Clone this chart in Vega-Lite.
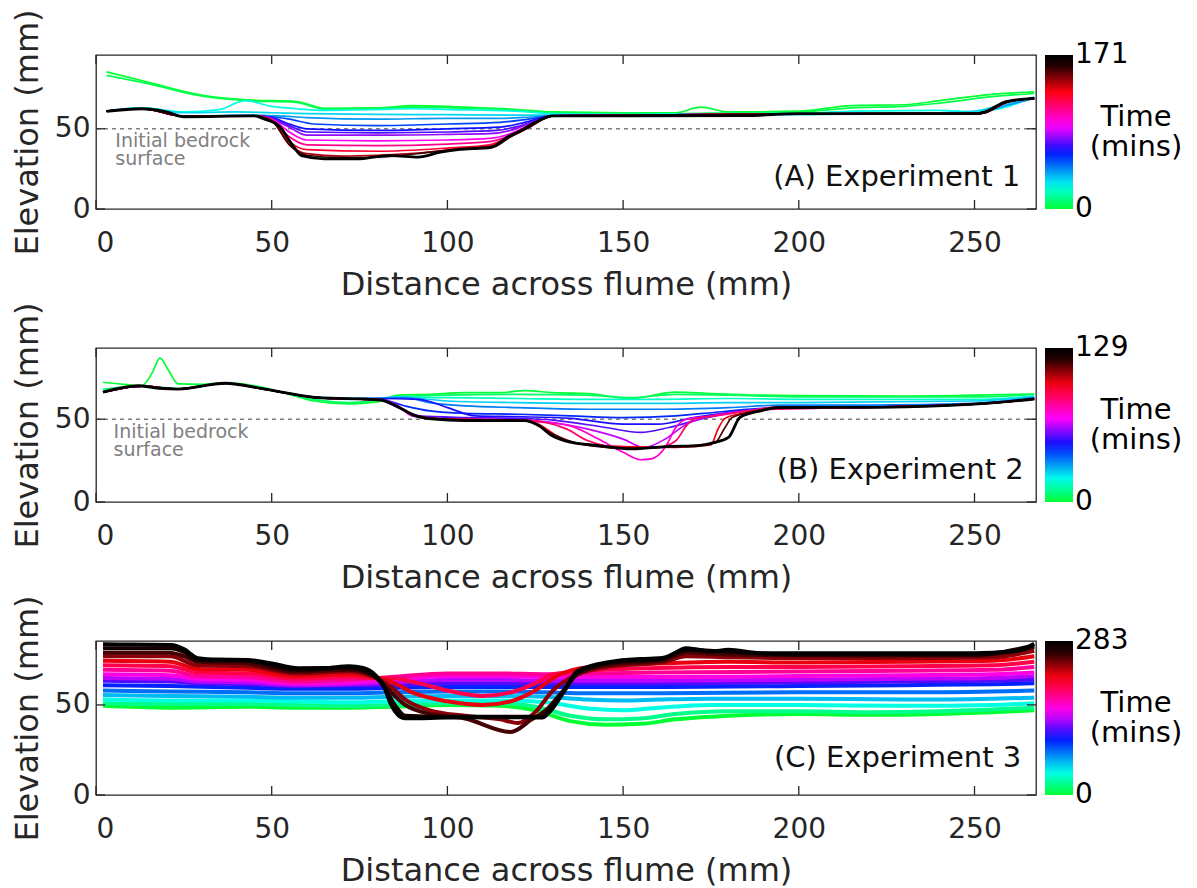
{
"$schema": "https://vega.github.io/schema/vega-lite/v6.json",
"background": "white",
"padding": {"left": 10, "top": 8, "right": 5, "bottom": 0},
"config": {
  "font": "DejaVu Sans",
  "view": {"stroke": "#262626", "strokeWidth": 1.3},
  "axis": {"grid": false, "domain": false, "ticks": false, "tickSize": 0, "labelFont": "DejaVu Sans", "labelFontSize": 28, "labelColor": "#262626", "titleFont": "DejaVu Sans", "titleFontSize": 32, "titleFontWeight": "normal", "titleColor": "#262626"},
  "axisBottom": {"labelPadding": 20, "titlePadding": 12},
  "axisLeft": {"labelPadding": 6, "titlePadding": 10},
  "legend": {"orient": "right", "offset": 9, "padding": 0, "gradientLength": 154, "gradientThickness": 28, "gradientStrokeWidth": 0, "labelFont": "DejaVu Sans", "labelFontSize": 28, "labelColor": "#000000", "labelOffset": 8, "labelOverlap": false, "titleFont": "DejaVu Sans", "titleFontSize": 29, "titleFontWeight": "normal", "titleColor": "#000000", "titleOrient": "right", "titlePadding": 8, "titleLineHeight": 30}
},
"spacing": 0,
"resolve": {"scale": {"color": "independent", "x": "independent", "y": "independent"}},
"datasets": {
"tx": [{"v":0},{"v":50},{"v":100},{"v":150},{"v":200},{"v":250}],
"ty": [{"v":0},{"v":50}],
"e1": [
{"t":0,"x":3,"y":85.5},{"t":0,"x":15,"y":79},{"t":0,"x":30,"y":71},{"t":0,"x":43,"y":68},{"t":0,"x":57,"y":67},{"t":0,"x":65,"y":62.8},{"t":0,"x":80,"y":63},{"t":0,"x":90,"y":64.5},{"t":0,"x":100,"y":64},{"t":0,"x":110,"y":63},{"t":0,"x":120,"y":62},{"t":0,"x":130,"y":60.5},{"t":0,"x":150,"y":60},{"t":0,"x":165,"y":60},{"t":0,"x":172,"y":63.5},{"t":0,"x":180,"y":60.5},{"t":0,"x":200,"y":61},{"t":0,"x":215,"y":64.5},{"t":0,"x":230,"y":65},{"t":0,"x":240,"y":67.5},{"t":0,"x":255,"y":71.5},{"t":0,"x":267,"y":73},
{"t":3,"x":3,"y":83.3},{"t":3,"x":15,"y":78},{"t":3,"x":30,"y":70.5},{"t":3,"x":43,"y":67.5},{"t":3,"x":57,"y":66.5},{"t":3,"x":65,"y":62.3},{"t":3,"x":80,"y":62.5},{"t":3,"x":90,"y":63.5},{"t":3,"x":100,"y":63.2},{"t":3,"x":110,"y":62.5},{"t":3,"x":120,"y":61.5},{"t":3,"x":130,"y":60},{"t":3,"x":150,"y":59.5},{"t":3,"x":165,"y":59.5},{"t":3,"x":180,"y":60},{"t":3,"x":200,"y":60.5},{"t":3,"x":215,"y":63},{"t":3,"x":230,"y":64},{"t":3,"x":240,"y":66},{"t":3,"x":255,"y":70},{"t":3,"x":267,"y":72},
{"t":24,"x":3,"y":61},{"t":24,"x":13,"y":63},{"t":24,"x":25,"y":60.5},{"t":24,"x":35,"y":62},{"t":24,"x":42.5,"y":67.5},{"t":24,"x":50,"y":64},{"t":24,"x":57,"y":62.5},{"t":24,"x":65,"y":61.5},{"t":24,"x":80,"y":62},{"t":24,"x":90,"y":62.5},{"t":24,"x":100,"y":62},{"t":24,"x":120,"y":61},{"t":24,"x":130,"y":59.5},{"t":24,"x":150,"y":59},{"t":24,"x":200,"y":59.5},{"t":24,"x":215,"y":61},{"t":24,"x":240,"y":61.5},{"t":24,"x":250,"y":60.5},{"t":24,"x":258,"y":63},{"t":24,"x":267,"y":70},
{"t":32,"x":3,"y":61},{"t":32,"x":13,"y":63},{"t":32,"x":25,"y":60},{"t":32,"x":40,"y":60.5},{"t":32,"x":50,"y":60},{"t":32,"x":60,"y":59.5},{"t":32,"x":80,"y":59},{"t":32,"x":100,"y":58.8},{"t":32,"x":120,"y":58.5},{"t":32,"x":130,"y":58.5},{"t":32,"x":150,"y":58.5},{"t":32,"x":200,"y":59},{"t":32,"x":240,"y":60},{"t":32,"x":250,"y":61},{"t":32,"x":258,"y":65},{"t":32,"x":267,"y":69.5},
{"t":42,"x":3,"y":60.8},{"t":42,"x":13,"y":62.5},{"t":42,"x":25,"y":58},{"t":42,"x":45,"y":58.5},{"t":42,"x":52,"y":58},{"t":42,"x":60,"y":57},{"t":42,"x":80,"y":56},{"t":42,"x":100,"y":56.5},{"t":42,"x":115,"y":56.5},{"t":42,"x":125,"y":57.5},{"t":42,"x":130,"y":58},{"t":42,"x":150,"y":58.3},{"t":42,"x":200,"y":59},{"t":42,"x":250,"y":59.5},{"t":42,"x":258,"y":64},{"t":42,"x":267,"y":69},
{"t":55,"x":3,"y":61},{"t":55,"x":13,"y":62.5},{"t":55,"x":25,"y":57.8},{"t":55,"x":45,"y":58},{"t":55,"x":50,"y":57.5},{"t":55,"x":55,"y":56},{"t":55,"x":62,"y":53},{"t":55,"x":80,"y":52},{"t":55,"x":100,"y":53},{"t":55,"x":115,"y":54},{"t":55,"x":123,"y":56},{"t":55,"x":130,"y":58},{"t":55,"x":200,"y":59.3},{"t":55,"x":252,"y":59.6},{"t":55,"x":259,"y":66.5},{"t":55,"x":267,"y":69},
{"t":65,"x":3,"y":61},{"t":65,"x":13,"y":62.5},{"t":65,"x":25,"y":57.8},{"t":65,"x":45,"y":58},{"t":65,"x":50,"y":57},{"t":65,"x":55,"y":53},{"t":65,"x":60,"y":50},{"t":65,"x":80,"y":49},{"t":65,"x":100,"y":50},{"t":65,"x":115,"y":51},{"t":65,"x":122,"y":54},{"t":65,"x":130,"y":58},{"t":65,"x":200,"y":59.3},{"t":65,"x":252,"y":59.6},{"t":65,"x":259,"y":66.5},{"t":65,"x":267,"y":69},
{"t":72,"x":3,"y":61},{"t":72,"x":13,"y":62.5},{"t":72,"x":25,"y":57.8},{"t":72,"x":45,"y":58},{"t":72,"x":50,"y":56.5},{"t":72,"x":55,"y":52},{"t":72,"x":60,"y":48},{"t":72,"x":80,"y":47.5},{"t":72,"x":100,"y":48},{"t":72,"x":114,"y":49},{"t":72,"x":120,"y":51.5},{"t":72,"x":125,"y":55},{"t":72,"x":130,"y":58},{"t":72,"x":200,"y":59.3},{"t":72,"x":252,"y":59.6},{"t":72,"x":259,"y":66.5},{"t":72,"x":267,"y":69},
{"t":80,"x":3,"y":61},{"t":80,"x":13,"y":62.5},{"t":80,"x":25,"y":57.8},{"t":80,"x":45,"y":58},{"t":80,"x":50,"y":56},{"t":80,"x":55,"y":51},{"t":80,"x":60,"y":46},{"t":80,"x":80,"y":46},{"t":80,"x":100,"y":46.5},{"t":80,"x":112,"y":47},{"t":80,"x":118,"y":49},{"t":80,"x":124,"y":54},{"t":80,"x":130,"y":58},{"t":80,"x":200,"y":59.3},{"t":80,"x":252,"y":59.6},{"t":80,"x":259,"y":66.5},{"t":80,"x":267,"y":69},
{"t":95,"x":3,"y":61},{"t":95,"x":13,"y":62.5},{"t":95,"x":25,"y":57.8},{"t":95,"x":45,"y":58},{"t":95,"x":50,"y":56},{"t":95,"x":55,"y":48},{"t":95,"x":60,"y":43},{"t":95,"x":80,"y":42.5},{"t":95,"x":100,"y":43},{"t":95,"x":112,"y":44},{"t":95,"x":118,"y":47},{"t":95,"x":124,"y":53},{"t":95,"x":130,"y":58},{"t":95,"x":200,"y":59.3},{"t":95,"x":252,"y":59.6},{"t":95,"x":259,"y":66.5},{"t":95,"x":267,"y":69},
{"t":110,"x":3,"y":61},{"t":110,"x":13,"y":62.5},{"t":110,"x":25,"y":57.8},{"t":110,"x":45,"y":58},{"t":110,"x":50,"y":55.5},{"t":110,"x":55,"y":45},{"t":110,"x":60,"y":40},{"t":110,"x":80,"y":39.5},{"t":110,"x":100,"y":40.5},{"t":110,"x":112,"y":42},{"t":110,"x":118,"y":46},{"t":110,"x":124,"y":53},{"t":110,"x":130,"y":58},{"t":110,"x":200,"y":59.3},{"t":110,"x":252,"y":59.6},{"t":110,"x":259,"y":66.5},{"t":110,"x":267,"y":69},
{"t":125,"x":3,"y":61},{"t":125,"x":13,"y":62.5},{"t":125,"x":25,"y":57.8},{"t":125,"x":45,"y":58},{"t":125,"x":50,"y":55.5},{"t":125,"x":55,"y":42},{"t":125,"x":60,"y":37},{"t":125,"x":80,"y":36},{"t":125,"x":100,"y":38},{"t":125,"x":112,"y":40},{"t":125,"x":118,"y":45.5},{"t":125,"x":123,"y":51},{"t":125,"x":130,"y":58},{"t":125,"x":200,"y":59.3},{"t":125,"x":252,"y":59.6},{"t":125,"x":259,"y":66.5},{"t":125,"x":267,"y":69},
{"t":140,"x":3,"y":61},{"t":140,"x":13,"y":62.5},{"t":140,"x":25,"y":57.8},{"t":140,"x":45,"y":58},{"t":140,"x":50,"y":55},{"t":140,"x":55,"y":40.5},{"t":140,"x":60,"y":34.5},{"t":140,"x":70,"y":33},{"t":140,"x":80,"y":33.5},{"t":140,"x":95,"y":35.5},{"t":140,"x":105,"y":38},{"t":140,"x":112,"y":39},{"t":140,"x":118,"y":45},{"t":140,"x":123,"y":50.5},{"t":140,"x":130,"y":58},{"t":140,"x":200,"y":59.3},{"t":140,"x":252,"y":59.6},{"t":140,"x":259,"y":66.5},{"t":140,"x":267,"y":69},
{"t":155,"x":3,"y":61},{"t":155,"x":13,"y":62.5},{"t":155,"x":25,"y":57.8},{"t":155,"x":45,"y":58},{"t":155,"x":50,"y":55},{"t":155,"x":55,"y":40},{"t":155,"x":60,"y":33.5},{"t":155,"x":70,"y":32},{"t":155,"x":85,"y":33},{"t":155,"x":95,"y":35.5},{"t":155,"x":105,"y":37.5},{"t":155,"x":113,"y":38.5},{"t":155,"x":118,"y":45},{"t":155,"x":122,"y":49.5},{"t":155,"x":126,"y":54.5},{"t":155,"x":130,"y":58},{"t":155,"x":200,"y":59.3},{"t":155,"x":252,"y":59.6},{"t":155,"x":259,"y":66.5},{"t":155,"x":267,"y":69},
{"t":171,"x":3,"y":60.8},{"t":171,"x":13,"y":62.5},{"t":171,"x":20,"y":60.5},{"t":171,"x":25,"y":57.5},{"t":171,"x":45,"y":58},{"t":171,"x":48,"y":56},{"t":171,"x":52,"y":52},{"t":171,"x":56,"y":39.6},{"t":171,"x":58.5,"y":33.3},{"t":171,"x":65,"y":31.3},{"t":171,"x":75,"y":31.2},{"t":171,"x":79,"y":32.3},{"t":171,"x":84,"y":33.3},{"t":171,"x":91.7,"y":32.3},{"t":171,"x":98,"y":35.4},{"t":171,"x":103,"y":37},{"t":171,"x":112.5,"y":38.5},{"t":171,"x":117,"y":44.8},{"t":171,"x":121,"y":49},{"t":171,"x":125,"y":54},{"t":171,"x":130,"y":58},{"t":171,"x":150,"y":58},{"t":171,"x":185,"y":58.2},{"t":171,"x":200,"y":59.4},{"t":171,"x":250,"y":59.4},{"t":171,"x":253,"y":60.6},{"t":171,"x":259,"y":67},{"t":171,"x":267,"y":69}
],
"e2": [
{"t":0,"x":2,"y":72.3},{"t":0,"x":8,"y":71},{"t":0,"x":13,"y":70.2},{"t":0,"x":16,"y":78},{"t":0,"x":18.2,"y":86.9},{"t":0,"x":20.5,"y":80},{"t":0,"x":23.4,"y":71.3},{"t":0,"x":30,"y":71},{"t":0,"x":37,"y":72},{"t":0,"x":48,"y":69},{"t":0,"x":55,"y":65},{"t":0,"x":62,"y":61},{"t":0,"x":72,"y":59.2},{"t":0,"x":80,"y":60.5},{"t":0,"x":86,"y":64.5},{"t":0,"x":95,"y":65},{"t":0,"x":105,"y":66},{"t":0,"x":115,"y":66},{"t":0,"x":122,"y":67.2},{"t":0,"x":130,"y":66},{"t":0,"x":140,"y":65.5},{"t":0,"x":152,"y":62.5},{"t":0,"x":165,"y":66.4},{"t":0,"x":175,"y":65.5},{"t":0,"x":190,"y":64.5},{"t":0,"x":200,"y":64.2},{"t":0,"x":230,"y":64},{"t":0,"x":250,"y":64.5},{"t":0,"x":267,"y":65.2},
{"t":5,"x":2,"y":68},{"t":5,"x":13,"y":70.2},{"t":5,"x":23,"y":68.5},{"t":5,"x":37,"y":72},{"t":5,"x":48,"y":68.5},{"t":5,"x":62,"y":62},{"t":5,"x":72,"y":60},{"t":5,"x":80,"y":61.5},{"t":5,"x":86,"y":63.5},{"t":5,"x":100,"y":64.5},{"t":5,"x":120,"y":65},{"t":5,"x":140,"y":64.5},{"t":5,"x":152,"y":63},{"t":5,"x":165,"y":65},{"t":5,"x":180,"y":64.5},{"t":5,"x":200,"y":63.5},{"t":5,"x":250,"y":63.5},{"t":5,"x":267,"y":65},
{"t":15,"x":2,"y":66.5},{"t":15,"x":13,"y":70},{"t":15,"x":23,"y":68.3},{"t":15,"x":37,"y":71.8},{"t":15,"x":48,"y":68.3},{"t":15,"x":62,"y":63},{"t":15,"x":72,"y":62},{"t":15,"x":80,"y":62.5},{"t":15,"x":86,"y":63.5},{"t":15,"x":100,"y":63},{"t":15,"x":120,"y":62.5},{"t":15,"x":140,"y":62},{"t":15,"x":160,"y":62},{"t":15,"x":180,"y":62.5},{"t":15,"x":200,"y":62},{"t":15,"x":250,"y":62},{"t":15,"x":267,"y":64},
{"t":25,"x":2,"y":66.3},{"t":25,"x":13,"y":70},{"t":25,"x":23,"y":68.2},{"t":25,"x":37,"y":71.7},{"t":25,"x":48,"y":68.2},{"t":25,"x":62,"y":63.2},{"t":25,"x":80,"y":62.5},{"t":25,"x":86,"y":63.5},{"t":25,"x":100,"y":61},{"t":25,"x":120,"y":60},{"t":25,"x":140,"y":59.5},{"t":25,"x":160,"y":59.5},{"t":25,"x":180,"y":60},{"t":25,"x":200,"y":60},{"t":25,"x":250,"y":61},{"t":25,"x":267,"y":63.5},
{"t":35,"x":2,"y":66.3},{"t":35,"x":13,"y":70},{"t":35,"x":23,"y":68.2},{"t":35,"x":37,"y":71.7},{"t":35,"x":48,"y":68.2},{"t":35,"x":62,"y":63.2},{"t":35,"x":72,"y":62.3},{"t":35,"x":80,"y":62.5},{"t":35,"x":88,"y":63},{"t":35,"x":95,"y":60},{"t":35,"x":105,"y":58},{"t":35,"x":120,"y":57},{"t":35,"x":140,"y":56},{"t":35,"x":160,"y":56},{"t":35,"x":180,"y":57},{"t":35,"x":195,"y":58.5},{"t":35,"x":220,"y":58.5},{"t":35,"x":250,"y":59.5},{"t":35,"x":267,"y":63},
{"t":45,"x":2,"y":66.3},{"t":45,"x":13,"y":70},{"t":45,"x":23,"y":68.2},{"t":45,"x":37,"y":71.7},{"t":45,"x":48,"y":68.2},{"t":45,"x":62,"y":63.2},{"t":45,"x":72,"y":62.3},{"t":45,"x":80,"y":62.5},{"t":45,"x":88,"y":58},{"t":45,"x":95,"y":55},{"t":45,"x":105,"y":53.5},{"t":45,"x":120,"y":53},{"t":45,"x":135,"y":52},{"t":45,"x":150,"y":51},{"t":45,"x":165,"y":52},{"t":45,"x":178,"y":54.5},{"t":45,"x":190,"y":56.5},{"t":45,"x":220,"y":57.5},{"t":45,"x":250,"y":59.3},{"t":45,"x":267,"y":62.5},
{"t":50,"x":2,"y":66.3},{"t":50,"x":13,"y":70},{"t":50,"x":23,"y":68.2},{"t":50,"x":37,"y":71.7},{"t":50,"x":48,"y":68.2},{"t":50,"x":62,"y":63.2},{"t":50,"x":72,"y":62.3},{"t":50,"x":80,"y":62.5},{"t":50,"x":92,"y":62},{"t":50,"x":100,"y":57},{"t":50,"x":108,"y":52},{"t":50,"x":120,"y":51.5},{"t":50,"x":135,"y":50.5},{"t":50,"x":150,"y":47},{"t":50,"x":160,"y":47},{"t":50,"x":170,"y":51},{"t":50,"x":180,"y":54},{"t":50,"x":192,"y":56.5},{"t":50,"x":222,"y":57.3},{"t":50,"x":251,"y":59.2},{"t":50,"x":267,"y":62.2},
{"t":55,"x":2,"y":66.3},{"t":55,"x":13,"y":70},{"t":55,"x":23,"y":68.2},{"t":55,"x":37,"y":71.7},{"t":55,"x":48,"y":68.2},{"t":55,"x":62,"y":63.2},{"t":55,"x":72,"y":62.3},{"t":55,"x":80,"y":62},{"t":55,"x":86,"y":57},{"t":55,"x":92,"y":52},{"t":55,"x":105,"y":51},{"t":55,"x":120,"y":50.5},{"t":55,"x":130,"y":49.5},{"t":55,"x":145,"y":45},{"t":55,"x":155,"y":42},{"t":55,"x":163,"y":45},{"t":55,"x":172,"y":50},{"t":55,"x":180,"y":53.5},{"t":55,"x":192,"y":56.5},{"t":55,"x":222,"y":57.3},{"t":55,"x":251,"y":59.2},{"t":55,"x":267,"y":62.2},
{"t":65,"x":2,"y":66.3},{"t":65,"x":13,"y":70},{"t":65,"x":23,"y":68.2},{"t":65,"x":37,"y":71.7},{"t":65,"x":48,"y":68.2},{"t":65,"x":62,"y":63.2},{"t":65,"x":72,"y":62.3},{"t":65,"x":81,"y":61.8},{"t":65,"x":86,"y":58},{"t":65,"x":90,"y":52},{"t":65,"x":100,"y":50},{"t":65,"x":120,"y":49.5},{"t":65,"x":130,"y":48},{"t":65,"x":140,"y":44},{"t":65,"x":150,"y":38},{"t":65,"x":156,"y":33},{"t":65,"x":162,"y":38},{"t":65,"x":168,"y":47},{"t":65,"x":175,"y":52},{"t":65,"x":185,"y":55},{"t":65,"x":195,"y":57.5},{"t":65,"x":222,"y":57.3},{"t":65,"x":251,"y":59.2},{"t":65,"x":267,"y":62.2},
{"t":75,"x":2,"y":66.3},{"t":75,"x":13,"y":70},{"t":75,"x":23,"y":68.2},{"t":75,"x":37,"y":71.7},{"t":75,"x":48,"y":68.2},{"t":75,"x":62,"y":63.2},{"t":75,"x":72,"y":62.3},{"t":75,"x":81,"y":61.7},{"t":75,"x":86,"y":58},{"t":75,"x":90,"y":52},{"t":75,"x":100,"y":50},{"t":75,"x":120,"y":49.5},{"t":75,"x":128,"y":48},{"t":75,"x":135,"y":46},{"t":75,"x":143,"y":38},{"t":75,"x":150,"y":30},{"t":75,"x":155,"y":25.5},{"t":75,"x":158,"y":26},{"t":75,"x":162,"y":33},{"t":75,"x":165,"y":45},{"t":75,"x":168,"y":50},{"t":75,"x":176,"y":52},{"t":75,"x":190,"y":56},{"t":75,"x":222,"y":57.3},{"t":75,"x":251,"y":59.2},{"t":75,"x":267,"y":62.2},
{"t":88,"x":2,"y":66.3},{"t":88,"x":13,"y":70},{"t":88,"x":23,"y":68.2},{"t":88,"x":37,"y":71.7},{"t":88,"x":48,"y":68.2},{"t":88,"x":62,"y":63.2},{"t":88,"x":72,"y":62.3},{"t":88,"x":81,"y":61.6},{"t":88,"x":86,"y":57.5},{"t":88,"x":91,"y":52},{"t":88,"x":100,"y":50},{"t":88,"x":122,"y":49.5},{"t":88,"x":128,"y":48},{"t":88,"x":134,"y":44},{"t":88,"x":140,"y":37},{"t":88,"x":150,"y":33},{"t":88,"x":160,"y":33},{"t":88,"x":165,"y":37},{"t":88,"x":168,"y":46},{"t":88,"x":170,"y":50},{"t":88,"x":176,"y":52},{"t":88,"x":188,"y":55.5},{"t":88,"x":222,"y":57.3},{"t":88,"x":251,"y":59.2},{"t":88,"x":267,"y":62.2},
{"t":100,"x":2,"y":66.3},{"t":100,"x":13,"y":70},{"t":100,"x":23,"y":68.2},{"t":100,"x":37,"y":71.7},{"t":100,"x":48,"y":68.2},{"t":100,"x":62,"y":63.2},{"t":100,"x":72,"y":62.3},{"t":100,"x":81,"y":61.6},{"t":100,"x":86,"y":57.5},{"t":100,"x":91,"y":52},{"t":100,"x":100,"y":50},{"t":100,"x":122,"y":49.3},{"t":100,"x":126,"y":47},{"t":100,"x":131,"y":40},{"t":100,"x":138,"y":35},{"t":100,"x":150,"y":33.5},{"t":100,"x":165,"y":33},{"t":100,"x":175,"y":34.5},{"t":100,"x":177,"y":44},{"t":100,"x":179,"y":50.5},{"t":100,"x":185,"y":54},{"t":100,"x":195,"y":57.5},{"t":100,"x":222,"y":57.3},{"t":100,"x":251,"y":59.2},{"t":100,"x":267,"y":62.2},
{"t":115,"x":2,"y":66.3},{"t":115,"x":13,"y":70},{"t":115,"x":23,"y":68.2},{"t":115,"x":37,"y":71.7},{"t":115,"x":48,"y":68.2},{"t":115,"x":62,"y":63.2},{"t":115,"x":72,"y":62.3},{"t":115,"x":81,"y":61.6},{"t":115,"x":86,"y":57.4},{"t":115,"x":91,"y":52},{"t":115,"x":100,"y":50},{"t":115,"x":122,"y":49.2},{"t":115,"x":124,"y":48},{"t":115,"x":130,"y":41},{"t":115,"x":136,"y":36},{"t":115,"x":150,"y":32.5},{"t":115,"x":165,"y":33.5},{"t":115,"x":176,"y":35.5},{"t":115,"x":179,"y":45},{"t":115,"x":181,"y":51},{"t":115,"x":188,"y":55},{"t":115,"x":195,"y":57.5},{"t":115,"x":222,"y":57.3},{"t":115,"x":251,"y":59.2},{"t":115,"x":267,"y":62.2},
{"t":129,"x":2,"y":66.3},{"t":129,"x":12,"y":70.2},{"t":129,"x":17.8,"y":68.7},{"t":129,"x":23.4,"y":68.2},{"t":129,"x":36.7,"y":71.7},{"t":129,"x":48,"y":68.2},{"t":129,"x":62.3,"y":63.2},{"t":129,"x":81,"y":61.6},{"t":129,"x":86,"y":57.4},{"t":129,"x":90.8,"y":52.2},{"t":129,"x":95.5,"y":50.2},{"t":129,"x":105,"y":49.2},{"t":129,"x":122,"y":49.2},{"t":129,"x":126,"y":46.2},{"t":129,"x":129.7,"y":40.1},{"t":129,"x":135,"y":36.1},{"t":129,"x":143,"y":34.1},{"t":129,"x":152.5,"y":32.1},{"t":129,"x":162,"y":33.5},{"t":129,"x":171.5,"y":34.1},{"t":129,"x":176,"y":36},{"t":129,"x":180,"y":39},{"t":129,"x":183.3,"y":51.2},{"t":129,"x":189.5,"y":55.2},{"t":129,"x":194,"y":57},{"t":129,"x":222.7,"y":57.2},{"t":129,"x":251,"y":59.2},{"t":129,"x":267,"y":62.2}
],
"e3": [
{"t":0,"x":2,"y":49.5},{"t":0,"x":21,"y":48.5},{"t":0,"x":43,"y":49},{"t":0,"x":57,"y":48.5},{"t":0,"x":72,"y":48.5},{"t":0,"x":84,"y":49},{"t":0,"x":100,"y":50},{"t":0,"x":115,"y":49.5},{"t":0,"x":125,"y":47},{"t":0,"x":135,"y":41},{"t":0,"x":145,"y":39},{"t":0,"x":155,"y":39.5},{"t":0,"x":165,"y":42},{"t":0,"x":180,"y":44},{"t":0,"x":200,"y":45},{"t":0,"x":220,"y":44.5},{"t":0,"x":240,"y":45},{"t":0,"x":255,"y":46},{"t":0,"x":267,"y":47},
{"t":20,"x":2,"y":51},{"t":20,"x":21,"y":50.5},{"t":20,"x":43,"y":50.5},{"t":20,"x":57,"y":50},{"t":20,"x":72,"y":49.5},{"t":20,"x":84,"y":50},{"t":20,"x":100,"y":51},{"t":20,"x":115,"y":51},{"t":20,"x":125,"y":49},{"t":20,"x":135,"y":44},{"t":20,"x":145,"y":42},{"t":20,"x":155,"y":42.5},{"t":20,"x":165,"y":45},{"t":20,"x":180,"y":46.5},{"t":20,"x":200,"y":46.5},{"t":20,"x":220,"y":46},{"t":20,"x":240,"y":46.5},{"t":20,"x":255,"y":47.5},{"t":20,"x":267,"y":48.5},
{"t":40,"x":2,"y":53},{"t":40,"x":21,"y":52.5},{"t":40,"x":43,"y":52.5},{"t":40,"x":57,"y":52},{"t":40,"x":72,"y":51.5},{"t":40,"x":84,"y":52},{"t":40,"x":100,"y":52.5},{"t":40,"x":115,"y":52.5},{"t":40,"x":128,"y":51.5},{"t":40,"x":140,"y":48},{"t":40,"x":150,"y":47},{"t":40,"x":160,"y":48.5},{"t":40,"x":175,"y":50},{"t":40,"x":200,"y":50},{"t":40,"x":230,"y":49.5},{"t":40,"x":255,"y":50},{"t":40,"x":267,"y":51},
{"t":60,"x":2,"y":55.5},{"t":60,"x":21,"y":55},{"t":60,"x":43,"y":54.5},{"t":60,"x":57,"y":54},{"t":60,"x":72,"y":54},{"t":60,"x":84,"y":54.5},{"t":60,"x":100,"y":55},{"t":60,"x":115,"y":55},{"t":60,"x":128,"y":54.5},{"t":60,"x":140,"y":53},{"t":60,"x":150,"y":52.5},{"t":60,"x":160,"y":53},{"t":60,"x":175,"y":53.5},{"t":60,"x":200,"y":53.5},{"t":60,"x":230,"y":53},{"t":60,"x":255,"y":53.5},{"t":60,"x":267,"y":54},
{"t":80,"x":2,"y":58},{"t":80,"x":21,"y":57.5},{"t":80,"x":43,"y":57},{"t":80,"x":57,"y":56.5},{"t":80,"x":72,"y":56.5},{"t":80,"x":84,"y":57},{"t":80,"x":100,"y":57.5},{"t":80,"x":115,"y":57.5},{"t":80,"x":128,"y":57},{"t":80,"x":140,"y":56.5},{"t":80,"x":160,"y":56.5},{"t":80,"x":200,"y":57},{"t":80,"x":230,"y":57},{"t":80,"x":255,"y":57.5},{"t":80,"x":267,"y":58},
{"t":100,"x":2,"y":61},{"t":100,"x":21,"y":60.5},{"t":100,"x":43,"y":59.5},{"t":100,"x":57,"y":59},{"t":100,"x":72,"y":59},{"t":100,"x":84,"y":59.5},{"t":100,"x":100,"y":60},{"t":100,"x":115,"y":60},{"t":100,"x":128,"y":60},{"t":100,"x":140,"y":60},{"t":100,"x":160,"y":60},{"t":100,"x":200,"y":60.5},{"t":100,"x":230,"y":61},{"t":100,"x":255,"y":61.5},{"t":100,"x":267,"y":62},
{"t":120,"x":2,"y":63.5},{"t":120,"x":21,"y":63},{"t":120,"x":29,"y":62},{"t":120,"x":43,"y":61.5},{"t":120,"x":57,"y":60.5},{"t":120,"x":72,"y":61},{"t":120,"x":84,"y":61},{"t":120,"x":100,"y":62},{"t":120,"x":115,"y":62},{"t":120,"x":128,"y":62},{"t":120,"x":140,"y":62},{"t":120,"x":160,"y":62},{"t":120,"x":200,"y":62.5},{"t":120,"x":230,"y":63},{"t":120,"x":255,"y":63.5},{"t":120,"x":267,"y":64},
{"t":140,"x":2,"y":65},{"t":140,"x":21,"y":64.5},{"t":140,"x":29,"y":63},{"t":140,"x":43,"y":62.5},{"t":140,"x":57,"y":61},{"t":140,"x":72,"y":61.5},{"t":140,"x":84,"y":62.5},{"t":140,"x":100,"y":64},{"t":140,"x":115,"y":64},{"t":140,"x":128,"y":63.5},{"t":140,"x":140,"y":63.5},{"t":140,"x":160,"y":63.5},{"t":140,"x":200,"y":64},{"t":140,"x":230,"y":64.5},{"t":140,"x":255,"y":65},{"t":140,"x":267,"y":66},
{"t":160,"x":2,"y":67},{"t":160,"x":21,"y":66.5},{"t":160,"x":29,"y":64.5},{"t":160,"x":43,"y":64},{"t":160,"x":57,"y":62},{"t":160,"x":72,"y":62.5},{"t":160,"x":84,"y":64},{"t":160,"x":100,"y":66},{"t":160,"x":115,"y":66},{"t":160,"x":128,"y":65.5},{"t":160,"x":140,"y":65.5},{"t":160,"x":160,"y":65.5},{"t":160,"x":200,"y":66},{"t":160,"x":230,"y":66.5},{"t":160,"x":255,"y":67},{"t":160,"x":267,"y":68},
{"t":180,"x":2,"y":69.5},{"t":180,"x":21,"y":69},{"t":180,"x":29,"y":66},{"t":180,"x":43,"y":65.5},{"t":180,"x":57,"y":63},{"t":180,"x":72,"y":64},{"t":180,"x":84,"y":65.5},{"t":180,"x":100,"y":67.5},{"t":180,"x":115,"y":67.5},{"t":180,"x":128,"y":67},{"t":180,"x":140,"y":67.5},{"t":180,"x":160,"y":68},{"t":180,"x":200,"y":68.5},{"t":180,"x":230,"y":69},{"t":180,"x":255,"y":69.5},{"t":180,"x":267,"y":71},
{"t":200,"x":2,"y":72},{"t":200,"x":21,"y":71.5},{"t":200,"x":29,"y":68},{"t":200,"x":43,"y":67.5},{"t":200,"x":57,"y":64.5},{"t":200,"x":72,"y":65.5},{"t":200,"x":79,"y":65},{"t":200,"x":84,"y":65},{"t":200,"x":92,"y":62},{"t":200,"x":100,"y":58},{"t":200,"x":110,"y":55},{"t":200,"x":118,"y":57},{"t":200,"x":125,"y":62},{"t":200,"x":130,"y":67},{"t":200,"x":140,"y":69},{"t":200,"x":160,"y":70.5},{"t":200,"x":180,"y":71},{"t":200,"x":200,"y":71},{"t":200,"x":230,"y":71.5},{"t":200,"x":255,"y":72},{"t":200,"x":267,"y":74},
{"t":220,"x":2,"y":74.5},{"t":220,"x":21,"y":74},{"t":220,"x":29,"y":70},{"t":220,"x":43,"y":69.5},{"t":220,"x":57,"y":66},{"t":220,"x":72,"y":67},{"t":220,"x":79,"y":65.5},{"t":220,"x":84,"y":63},{"t":220,"x":90,"y":57},{"t":220,"x":100,"y":52},{"t":220,"x":110,"y":50},{"t":220,"x":118,"y":52},{"t":220,"x":125,"y":58},{"t":220,"x":131,"y":66},{"t":220,"x":140,"y":71},{"t":220,"x":160,"y":73},{"t":220,"x":180,"y":74},{"t":220,"x":200,"y":73.5},{"t":220,"x":230,"y":74},{"t":220,"x":255,"y":74.5},{"t":220,"x":267,"y":77},
{"t":240,"x":2,"y":77},{"t":240,"x":21,"y":77},{"t":240,"x":29,"y":72},{"t":240,"x":43,"y":71.5},{"t":240,"x":57,"y":67.5},{"t":240,"x":72,"y":68.5},{"t":240,"x":79,"y":65.5},{"t":240,"x":84,"y":60},{"t":240,"x":88,"y":53},{"t":240,"x":95,"y":47},{"t":240,"x":105,"y":44},{"t":240,"x":115,"y":42},{"t":240,"x":120,"y":40},{"t":240,"x":125,"y":46},{"t":240,"x":130,"y":58},{"t":240,"x":137,"y":67},{"t":240,"x":147,"y":71.5},{"t":240,"x":161,"y":73.5},{"t":240,"x":168,"y":77},{"t":240,"x":180,"y":76.5},{"t":240,"x":200,"y":76},{"t":240,"x":230,"y":76},{"t":240,"x":255,"y":76.5},{"t":240,"x":267,"y":80},
{"t":255,"x":2,"y":79},{"t":255,"x":21,"y":79},{"t":255,"x":25,"y":77},{"t":255,"x":29,"y":74},{"t":255,"x":43,"y":73},{"t":255,"x":57,"y":68.5},{"t":255,"x":72,"y":69.5},{"t":255,"x":79,"y":66},{"t":255,"x":84,"y":57},{"t":255,"x":88,"y":50},{"t":255,"x":95,"y":45},{"t":255,"x":105,"y":42.5},{"t":255,"x":118,"y":35},{"t":255,"x":124,"y":42},{"t":255,"x":128,"y":47},{"t":255,"x":133,"y":58},{"t":255,"x":137,"y":67},{"t":255,"x":147,"y":72.5},{"t":255,"x":161,"y":74.5},{"t":255,"x":168,"y":79},{"t":255,"x":180,"y":78},{"t":255,"x":200,"y":77.5},{"t":255,"x":250,"y":77.5},{"t":255,"x":267,"y":82},
{"t":270,"x":2,"y":81.5},{"t":270,"x":21,"y":81.5},{"t":270,"x":25,"y":79.5},{"t":270,"x":29,"y":75},{"t":270,"x":43,"y":74.5},{"t":270,"x":57,"y":69.5},{"t":270,"x":72,"y":70.5},{"t":270,"x":79,"y":66.5},{"t":270,"x":82,"y":60},{"t":270,"x":85,"y":50},{"t":270,"x":88,"y":44},{"t":270,"x":100,"y":43.5},{"t":270,"x":115,"y":43.5},{"t":270,"x":127,"y":43.5},{"t":270,"x":130,"y":50},{"t":270,"x":134,"y":60},{"t":270,"x":137,"y":68},{"t":270,"x":147,"y":73.5},{"t":270,"x":161,"y":75.5},{"t":270,"x":168,"y":80.5},{"t":270,"x":180,"y":79.5},{"t":270,"x":200,"y":78},{"t":270,"x":250,"y":78},{"t":270,"x":267,"y":83},
{"t":283,"x":2,"y":83.7},{"t":283,"x":10,"y":83.5},{"t":283,"x":21.5,"y":83.3},{"t":283,"x":25,"y":81},{"t":283,"x":29,"y":76},{"t":283,"x":35,"y":75.2},{"t":283,"x":43,"y":75},{"t":283,"x":50,"y":73},{"t":283,"x":57.6,"y":70.4},{"t":283,"x":65,"y":70.5},{"t":283,"x":72,"y":71.5},{"t":283,"x":76,"y":70.5},{"t":283,"x":79.4,"y":66.7},{"t":283,"x":82,"y":60},{"t":283,"x":84,"y":50},{"t":283,"x":86,"y":44.4},{"t":283,"x":88,"y":42.6},{"t":283,"x":100,"y":43},{"t":283,"x":110,"y":43.2},{"t":283,"x":120,"y":43.2},{"t":283,"x":127,"y":43},{"t":283,"x":129,"y":46},{"t":283,"x":133,"y":57},{"t":283,"x":137,"y":68.7},{"t":283,"x":146.8,"y":74},{"t":283,"x":155,"y":75.5},{"t":283,"x":161,"y":76},{"t":283,"x":165,"y":79},{"t":283,"x":167.8,"y":81.5},{"t":283,"x":172,"y":80.5},{"t":283,"x":175,"y":79.7},{"t":283,"x":180,"y":80.6},{"t":283,"x":189,"y":78.7},{"t":283,"x":200,"y":78.7},{"t":283,"x":250,"y":78.7},{"t":283,"x":260,"y":79.5},{"t":283,"x":264,"y":81},{"t":283,"x":267,"y":84}
]
},
"vconcat": [
{
  "width": 940, "height": 154,
  "resolve": {"axis": {"x": "independent", "y": "independent"}},
  "layer": [
    {"data": {"values": [{}]}, "mark": {"type": "rule", "stroke": "#7f7f7f", "strokeDash": [4, 4], "strokeWidth": 1.5}, "encoding": {"y": {"datum": 50, "type": "quantitative", "axis": null}}},
    {"data": {"name": "e1"}, "mark": {"type": "line", "interpolate": "monotone", "clip": true},
     "encoding": {
       "x": {"field": "x", "type": "quantitative", "scale": {"domain": [0, 267.5], "nice": false, "zero": false}, "axis": {"values": [0, 50, 100, 150, 200, 250], "title": "Distance across flume (mm)"}},
       "y": {"field": "y", "type": "quantitative", "scale": {"domain": [0, 96], "nice": false}, "axis": {"values": [0, 50], "title": "Elevation (mm)"}},
       "detail": {"field": "t", "type": "quantitative"},
       "strokeWidth": {"condition": {"test": "datum.t === 171", "value": 2.8}, "value": 1.7},
       "color": {"field": "t", "type": "quantitative", "scale": {"domain": [0, 25.65, 63.3, 92.3, 130, 159, 171], "range": ["#00ff33", "#00ffee", "#0010ff", "#ff00ff", "#ff0010", "#200000", "#000000"], "interpolate": "rgb"},
         "legend": {"title": ["Time", "(mins)"], "values": [0, 171], "encode": {"title": {"update": {"angle": {"value": 0}, "baseline": {"value": "middle"}, "align": {"value": "center"}}}, "labels": {"update": {"baseline": {"value": "middle"}}}}}}
     }},
    {"data": {"values": [{}]}, "mark": {"type": "text", "align": "left", "baseline": "top", "fontSize": 19, "color": "#808080", "lineHeight": 18, "text": ["Initial bedrock", "surface"]},
     "encoding": {"x": {"datum": 5.5, "type": "quantitative", "axis": null}, "y": {"datum": 48, "type": "quantitative", "axis": null}}},
    {"data": {"values": [{}]}, "mark": {"type": "text", "align": "right", "baseline": "alphabetic", "fontSize": 29, "color": "#111111", "text": "(A) Experiment 1"},
     "encoding": {"x": {"datum": 263, "type": "quantitative", "axis": null}, "y": {"datum": 14.4, "type": "quantitative", "axis": null}}},
    {"data": {"name": "tx"}, "mark": {"type": "rule", "stroke": "#262626", "strokeWidth": 1.3}, "encoding": {"x": {"field": "v", "type": "quantitative", "axis": null}, "y": {"datum": 0, "type": "quantitative", "axis": null}, "y2": {"datum": 5.6}}},
    {"data": {"name": "tx"}, "mark": {"type": "rule", "stroke": "#262626", "strokeWidth": 1.3}, "encoding": {"x": {"field": "v", "type": "quantitative", "axis": null}, "y": {"datum": 96, "type": "quantitative", "axis": null}, "y2": {"datum": 90.4}}},
    {"data": {"name": "ty"}, "mark": {"type": "rule", "stroke": "#262626", "strokeWidth": 1.3}, "encoding": {"y": {"field": "v", "type": "quantitative", "axis": null}, "x": {"datum": 0, "type": "quantitative", "axis": null}, "x2": {"datum": 2.6}}},
    {"data": {"name": "ty"}, "mark": {"type": "rule", "stroke": "#262626", "strokeWidth": 1.3}, "encoding": {"y": {"field": "v", "type": "quantitative", "axis": null}, "x": {"datum": 267.5, "type": "quantitative", "axis": null}, "x2": {"datum": 264.9}}}
  ]
},
{
  "width": 940, "height": 154,
  "resolve": {"axis": {"x": "independent", "y": "independent"}},
  "layer": [
    {"data": {"values": [{}]}, "mark": {"type": "rule", "stroke": "#7f7f7f", "strokeDash": [4, 4], "strokeWidth": 1.5}, "encoding": {"y": {"datum": 50, "type": "quantitative", "axis": null}}},
    {"data": {"name": "e2"}, "mark": {"type": "line", "interpolate": "monotone", "clip": true},
     "encoding": {
       "x": {"field": "x", "type": "quantitative", "scale": {"domain": [0, 267.5], "nice": false, "zero": false}, "axis": {"values": [0, 50, 100, 150, 200, 250], "title": "Distance across flume (mm)"}},
       "y": {"field": "y", "type": "quantitative", "scale": {"domain": [0, 93], "nice": false}, "axis": {"values": [0, 50], "title": "Elevation (mm)"}},
       "detail": {"field": "t", "type": "quantitative"},
       "strokeWidth": {"condition": {"test": "datum.t === 129", "value": 2.8}, "value": 1.7},
       "color": {"field": "t", "type": "quantitative", "scale": {"domain": [0, 19.4, 47.7, 69.7, 98, 120, 129], "range": ["#00ff33", "#00ffee", "#0010ff", "#ff00ff", "#ff0010", "#200000", "#000000"], "interpolate": "rgb"},
         "legend": {"title": ["Time", "(mins)"], "values": [0, 129], "encode": {"title": {"update": {"angle": {"value": 0}, "baseline": {"value": "middle"}, "align": {"value": "center"}}}, "labels": {"update": {"baseline": {"value": "middle"}}}}}}
     }},
    {"data": {"values": [{}]}, "mark": {"type": "text", "align": "left", "baseline": "top", "fontSize": 19, "color": "#808080", "lineHeight": 18, "text": ["Initial bedrock", "surface"]},
     "encoding": {"x": {"datum": 5, "type": "quantitative", "axis": null}, "y": {"datum": 47.5, "type": "quantitative", "axis": null}}},
    {"data": {"values": [{}]}, "mark": {"type": "text", "align": "right", "baseline": "alphabetic", "fontSize": 29, "color": "#111111", "text": "(B) Experiment 2"},
     "encoding": {"x": {"datum": 264, "type": "quantitative", "axis": null}, "y": {"datum": 14, "type": "quantitative", "axis": null}}},
    {"data": {"name": "tx"}, "mark": {"type": "rule", "stroke": "#262626", "strokeWidth": 1.3}, "encoding": {"x": {"field": "v", "type": "quantitative", "axis": null}, "y": {"datum": 0, "type": "quantitative", "axis": null}, "y2": {"datum": 5.4}}},
    {"data": {"name": "tx"}, "mark": {"type": "rule", "stroke": "#262626", "strokeWidth": 1.3}, "encoding": {"x": {"field": "v", "type": "quantitative", "axis": null}, "y": {"datum": 93, "type": "quantitative", "axis": null}, "y2": {"datum": 87.6}}},
    {"data": {"name": "ty"}, "mark": {"type": "rule", "stroke": "#262626", "strokeWidth": 1.3}, "encoding": {"y": {"field": "v", "type": "quantitative", "axis": null}, "x": {"datum": 0, "type": "quantitative", "axis": null}, "x2": {"datum": 2.6}}},
    {"data": {"name": "ty"}, "mark": {"type": "rule", "stroke": "#262626", "strokeWidth": 1.3}, "encoding": {"y": {"field": "v", "type": "quantitative", "axis": null}, "x": {"datum": 267.5, "type": "quantitative", "axis": null}, "x2": {"datum": 264.9}}}
  ]
},
{
  "width": 940, "height": 154,
  "resolve": {"axis": {"x": "independent", "y": "independent"}},
  "layer": [
    {"data": {"name": "e3"}, "mark": {"type": "line", "strokeWidth": 4, "interpolate": "monotone", "clip": true},
     "encoding": {
       "x": {"field": "x", "type": "quantitative", "scale": {"domain": [0, 267.5], "nice": false, "zero": false}, "axis": {"values": [0, 50, 100, 150, 200, 250], "title": "Distance across flume (mm)"}},
       "y": {"field": "y", "type": "quantitative", "scale": {"domain": [0, 85.5], "nice": false}, "axis": {"values": [0, 50], "title": "Elevation (mm)"}},
       "detail": {"field": "t", "type": "quantitative"},
       "color": {"field": "t", "type": "quantitative", "scale": {"domain": [0, 42.5, 104.7, 152.8, 215, 263, 283], "range": ["#00ff33", "#00ffee", "#0010ff", "#ff00ff", "#ff0010", "#200000", "#000000"], "interpolate": "rgb"},
         "legend": {"title": ["Time", "(mins)"], "values": [0, 283], "encode": {"title": {"update": {"angle": {"value": 0}, "baseline": {"value": "middle"}, "align": {"value": "center"}}}, "labels": {"update": {"baseline": {"value": "middle"}}}}}}
     }},
    {"data": {"values": [{}]}, "mark": {"type": "text", "align": "right", "baseline": "alphabetic", "fontSize": 29, "color": "#111111", "text": "(C) Experiment 3"},
     "encoding": {"x": {"datum": 263.3, "type": "quantitative", "axis": null}, "y": {"datum": 15.8, "type": "quantitative", "axis": null}}},
    {"data": {"name": "tx"}, "mark": {"type": "rule", "stroke": "#262626", "strokeWidth": 1.3}, "encoding": {"x": {"field": "v", "type": "quantitative", "axis": null}, "y": {"datum": 0, "type": "quantitative", "axis": null}, "y2": {"datum": 5}}},
    {"data": {"name": "tx"}, "mark": {"type": "rule", "stroke": "#262626", "strokeWidth": 1.3}, "encoding": {"x": {"field": "v", "type": "quantitative", "axis": null}, "y": {"datum": 85.5, "type": "quantitative", "axis": null}, "y2": {"datum": 80.5}}},
    {"data": {"name": "ty"}, "mark": {"type": "rule", "stroke": "#262626", "strokeWidth": 1.3}, "encoding": {"y": {"field": "v", "type": "quantitative", "axis": null}, "x": {"datum": 0, "type": "quantitative", "axis": null}, "x2": {"datum": 2.6}}},
    {"data": {"name": "ty"}, "mark": {"type": "rule", "stroke": "#262626", "strokeWidth": 1.3}, "encoding": {"y": {"field": "v", "type": "quantitative", "axis": null}, "x": {"datum": 267.5, "type": "quantitative", "axis": null}, "x2": {"datum": 264.9}}}
  ]
}
]
}
